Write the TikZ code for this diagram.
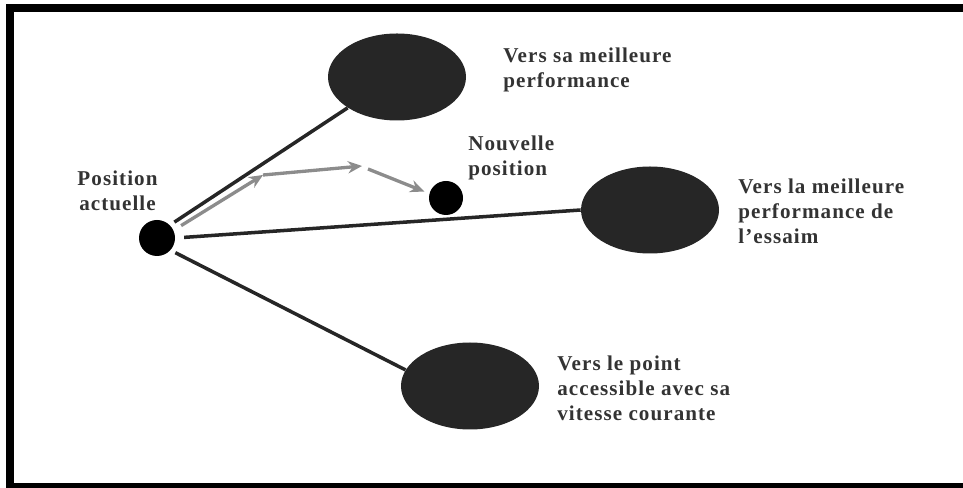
\documentclass[tikz,border=0pt]{standalone}
\usepackage{fontspec}
\usepackage{tikz}
\usetikzlibrary{positioning,arrows.meta,shapes.geometric}
\newfontfamily\legende[LetterSpace=5]{Liberation Serif}
\definecolor{fondEllipse}{HTML}{262626}
\definecolor{texteGris}{HTML}{333333}
\definecolor{flecheGrise}{HTML}{8C8C8C}

\begin{document}
\begin{tikzpicture}[
        >=Stealth,
        cible/.style={ellipse, fill=fondEllipse, minimum width=2.76cm, minimum height=1.74cm, inner sep=0pt},
        point/.style={circle, fill=black, inner sep=0pt},
        lien/.style={line width=2pt, draw=black!85},
        depl/.style={-{Stealth[length=8pt, width=7pt]}, line width=1.9pt, draw=flecheGrise},
        lbl/.style={font=\legende\bfseries\fontsize{12}{14.2}\selectfont, text=texteGris, align=left, inner sep=0pt}
    ]
        \useasboundingbox (0,0) rectangle (19.26,9.76);

        % Cadre (le bord droit sort de la page)
        \draw[line width=0.16cm] (19.5,9.59) -- (0.2,9.59) -- (0.2,0.02) -- (19.5,0.02);

        % Positions des particules
        \node[point, minimum size=0.72cm] (actuelle) at (3.14,5.0) {};
        \node[point, minimum size=0.68cm] (nouvelle) at (8.92,5.8) {};

        % Les trois attracteurs
        \node[cible] (perso) at (7.94,8.22) {};
        \node[cible] (essaim) at (13.0,5.56) {};
        \node[cible] (vitesse) at (9.4,2.04) {};

        % Etiquettes
        \node[lbl, align=center] (lblActuelle) at (2.35,5.95) {Position\\actuelle};
        \node[lbl, anchor=west] (lblNouvelle) at (9.36,6.61) {Nouvelle\\position};
        \node[lbl, anchor=west] (lblPerso) at (10.06,8.37) {Vers sa meilleure\\performance};
        \node[lbl, anchor=west] (lblEssaim) at (14.76,5.54) {Vers la meilleure\\performance de\\l’essaim};
        \node[lbl, anchor=west] (lblVitesse) at (11.14,2.0) {Vers le point\\accessible avec sa\\vitesse courante};

        % Directions vers les attracteurs
        \draw[lien, shorten <=3pt] (actuelle.45) -- (perso.212);
        \draw[lien, shorten <=5pt] (actuelle.east) -- (essaim.west);
        \draw[lien, shorten <=3pt] (actuelle.-42) -- (vitesse.166);

        % Deplacement resultant (fleches grises)
        \coordinate (k1) at (5.26,6.26);
        \coordinate (k2) at (7.24,6.44);
        \coordinate (k3) at (7.36,6.38);
        \draw[depl, shorten <=5pt] (actuelle.25) -- (k1);
        \draw[depl] (k1) -- (k2);
        \draw[depl, shorten >=3pt] (k3) -- (nouvelle.165);
    \end{tikzpicture}
\end{document}
